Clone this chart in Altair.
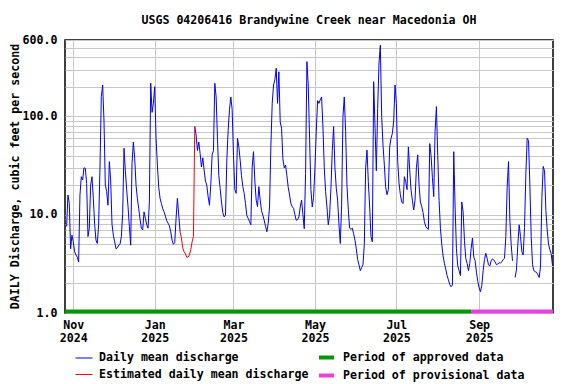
import altair as alt
import pandas as pd

FONT = "DejaVu Sans Mono"
FS = 11.6

title_text = "USGS 04206416 Brandywine Creek near Macedonia OH"
y_title = "DAILY Discharge, cubic feet per second"

first_day = "2024-10-27"
daily_mean = [
    7.6, 15.9, 13, 4.5, 6.2, 5.3, 4.2, 3.9, 3.7, 3.3,
    15.9, 24.4, 22.6, 30, 29.7, 20.8, 6, 7.3, 20, 24.4,
    14.7, 8, 5.5, 5.1, 8, 30.6, 160, 209, 90, 20,
    17.2, 12.5, 34.7, 22.6, 8, 6.2, 5.3, 4.5, 4.6, 4.9,
    5.0, 6, 10.3, 47.5, 28, 17.9, 12.1, 7.6, 4.9, 33.3,
    55, 37.5, 20, 14.7, 11.6, 9, 7.3, 7, 10.7, 9.2,
    7.9, 7.3, 13.5, 218, 110, 136, 201, 60, 32, 19,
    14.7, 13, 11.5, 10.7, 9.7, 8.7, 8.2, 7.7, 6.7, 5.5,
    5.0, 5.2, 9.2, 14.7, 9.9, 6.7, None, None, None, None,
    None, None, None, None, None, None, 79, 65, 45, 55,
    42, 30.6, 38, 28.5, 22, 20, 15.3, 12.5, 20, 40.7,
    45, 218, 158, 60, 25, 18.6, 13.5, 10.5, 9.5, 9.9,
    36, 72, 117, 158, 118, 40, 18, 16.5, 60, 49,
    36, 25, 19.3, 16.5, 13, 9.8, 9.2, 8.5, 7.9, 30.6,
    43.8, 22, 14.1, 12.1, 19.3, 14.1, 11, 9.9, 8.8, 7.6,
    6.7, 8.2, 12, 50, 136, 209, 236, 310, 136, 285,
    88, 76, 37, 30, 32, 25, 19, 15.9, 13, 12.1,
    11.6, 10, 8.8, 8.9, 9.5, 12, 14.1, 10, 7.2, 26.4,
    361, 209, 60, 18, 12, 15, 30, 70, 145, 136,
    148, 158, 79, 30, 17.2, 12, 7.9, 9.9, 18.6, 45,
    79, 30, 18.6, 14.1, 8, 5.1, 12.5, 100, 158, 70,
    20, 11.2, 7.3, 7.1, 7.3, 6.4, 5.5, 4.5, 3.5, 3.1,
    2.7, 2.9, 3.1, 5, 30, 45.5, 21.7, 12, 6, 5.3,
    226, 80, 28, 121, 350, 530, 100, 51, 32, 19,
    16, 18, 49, 60, 67, 90, 209, 136, 35, 21,
    16, 13.5, 13, 24.4, 21.7, 18, 49, 28.5, 17.9, 14,
    11.2, 14.1, 30, 40.7, 20, 13.5, 12.1, 10.5, 8.5, 7.6,
    7.3, 7.1, 53, 40, 24, 15.3, 70, 126, 40, 14,
    7.3, 5.0, 3.8, 3.2, 2.8, 2.4, 2.17, 1.95, 1.85, 1.93,
    43.8, 12, 4.5, 3.0, 2.7, 2.4, 13.5, 10.7, 5.5, 3.6,
    3.2, 2.7, 3.2, 4.5, 5.8, 3.7, 3.4, 2.6, 2.1, 1.8,
    1.65, 1.9, 2.7, 3.5, 4.05, 3.6, 3.1, 3.0, 3.4, 3.55,
    3.46, 3.3, 3.1, 3.15, 3.25, 3.22, 3.33, 3.5, 3.6, 6,
    19, 34.7, 9, 5, 3.4, None, 2.3, 2.8, 5, 7.9,
    6, 4.2, 3.9, 7.4, 26, 60, 57, 20, 6, 3.1,
    2.7, 2.63, 2.6, 2.45, 2.3, 3, 15, 31, 28, 11,
    7, 5, 4.4, 4, 3.0,
]

estimated_first_day = "2025-01-20"
estimated = [6.7, 5.8, 4.6, 4.2, 4.0, 3.7, 3.7, 3.9, 4.4, 5.3, 6.0, 79]

series_names = ["Daily mean discharge", "Estimated daily mean discharge"]
series_colors = ["#0000FF", "#FF0000"]

period_names = ["Period of approved data", "Period of provisional data"]
period_colors = ["#009900", "#F03CE0"]
period_start = ["2024-10-25T18:00:00", "2025-08-26T00:00:00"]
period_end = ["2025-08-26T00:00:00", "2025-10-26T09:00:00"]

y_grid = [1, 2, 3, 4, 5, 6, 7, 8, 9, 10, 20, 30, 40, 50, 60, 70, 80, 90,
          100, 200, 300, 400, 500, 600]
y_labels = [1, 10, 100, 600]

# ---- tables ----
dates = pd.date_range(first_day, periods=len(daily_mean), freq="D")
blue = pd.DataFrame({"date": dates.strftime("%Y-%m-%d"), "q": daily_mean})
blue["seg"] = blue["q"].isna().cumsum()
blue = blue.dropna().reset_index(drop=True)
blue["series"] = series_names[0]

edates = pd.date_range(estimated_first_day, periods=len(estimated), freq="D")
red = pd.DataFrame({"date": edates.strftime("%Y-%m-%d"), "q": estimated})
red["seg"] = 999
red["series"] = series_names[1]

flow = pd.concat([blue, red], ignore_index=True)
flow["order"] = range(len(flow))

per = pd.DataFrame({"start": period_start, "end": period_end, "period": period_names})

xscale = alt.Scale(
    type="utc",
    domain=[alt.DateTime(year=2024, month=10, date=25, hours=19, utc=True),
            alt.DateTime(year=2025, month=10, date=26, hours=8, utc=True)],
)
x_ticks = [alt.DateTime(year=2024, month=11, date=1, utc=True)] + [
    alt.DateTime(year=2025, month=m, date=1, utc=True) for m in (1, 3, 5, 7, 9)
]
xaxis = alt.Axis(
    values=x_ticks,
    labelExpr="[utcFormat(datum.value, '%b'), utcFormat(datum.value, '%Y')]",
    ticks=False, domain=False, labelPadding=6, labelLineHeight=13,
    labelBaseline="top", labelAlign="center", title=None,
    gridColor="#C8C8C8", gridWidth=1, labelOverlap=False, labelFlush=False,
    labelFont=FONT, labelFontSize=FS, labelFontWeight="bold", labelColor="black",
)
yscale = alt.Scale(type="log", domain=[1, 600], nice=False)
yaxis = alt.Axis(
    values=y_grid,
    labelExpr="indexof(%s, datum.value) >= 0 ? format(datum.value, '.1f') : ''" % str(y_labels),
    ticks=False, domain=False, labelPadding=8, labelOverlap=False,
    gridColor="#C8C8C8", gridWidth=1, title=y_title,
    titleX=-50, titleY=136, titleAngle=270, titleAlign="center", titleBaseline="middle",
    labelFont=FONT, labelFontSize=FS, labelFontWeight="bold", labelColor="black",
    titleFont=FONT, titleFontSize=FS, titleFontWeight="bold", titleColor="black",
)

leg_common = dict(
    title=None, orient="none", symbolType="stroke",
    labelFont=FONT, labelFontSize=FS, labelFontWeight="bold", labelColor="black",
    padding=0, labelLimit=0,
)

lines = alt.Chart(flow).mark_line(strokeWidth=1).encode(
    x=alt.X("date:T", scale=xscale, axis=xaxis),
    y=alt.Y("q:Q", scale=yscale, axis=yaxis),
    color=alt.Color("series:N", scale=alt.Scale(domain=series_names, range=series_colors),
                    legend=alt.Legend(legendX=10, legendY=309, symbolStrokeWidth=1,
                                      symbolSize=289, labelOffset=6,
                                      rowPadding=1.5, **leg_common)),
    detail="seg:N",
    order="order:Q",
)
bars = alt.Chart(per).mark_rule(strokeWidth=4).encode(
    x="start:T", x2="end:T", y=alt.value(271.5),
    stroke=alt.Stroke("period:N", scale=alt.Scale(domain=period_names, range=period_colors),
                      legend=alt.Legend(legendX=252, legendY=308, symbolStrokeWidth=4,
                                        symbolSize=225, labelOffset=7,
                                        rowPadding=0, **leg_common)),
)

chart = alt.layer(lines, bars).properties(
    width=488, height=273,
    background="white",
    title=alt.TitleParams(title_text, font=FONT, fontSize=FS, fontWeight="bold",
                          color="black", anchor="middle", offset=7),
    padding={"left": 57, "top": 32, "right": 10, "bottom": 72},
    autosize=alt.AutoSizeParams(type="none"),
).configure_view(stroke="black", strokeWidth=1.5)

chart.save("out.html", embed_options={"renderer": "svg", "actions": False})
